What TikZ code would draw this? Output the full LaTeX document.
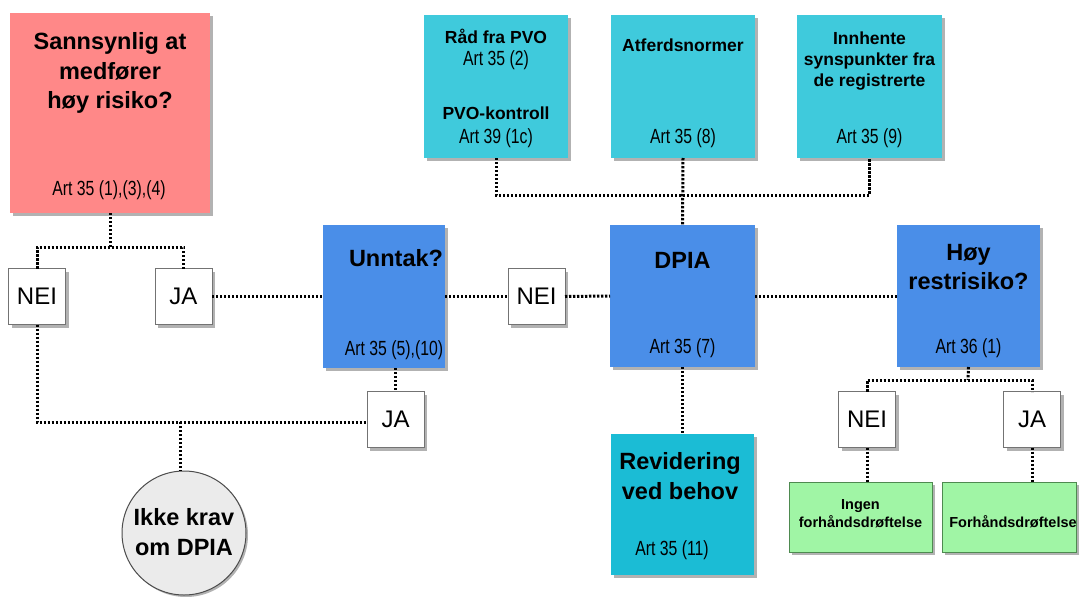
\documentclass[tikz,border=0pt]{standalone}
\usepackage{fontspec}
\setmainfont{Liberation Sans}
\newfontfamily\narrowfont{Liberation Sans}[FakeStretch=0.77]
\usetikzlibrary{shadows}
\definecolor{riskred}{HTML}{FF8888}
\definecolor{cyanbox}{HTML}{3FCADC}
\definecolor{revcyan}{HTML}{1BBCD5}
\definecolor{bluebox}{HTML}{4A8EE8}
\definecolor{greenbox}{HTML}{A0F5A5}
\definecolor{greenline}{HTML}{4E8A50}
\definecolor{circfill}{HTML}{EBEBEB}
\tikzset{
  box/.style={rectangle, inner sep=0pt, outer sep=0pt, draw=none,
    drop shadow={shadow xshift=3pt, shadow yshift=-3pt, fill=black, opacity=0.3}},
  redbox/.style={box, fill=riskred},
  cybox/.style={box, fill=cyanbox},
  revbox/.style={box, fill=revcyan},
  blbox/.style={box, fill=bluebox},
  ynbox/.style={box, fill=white, draw=black!55, line width=0.8pt, minimum width=57pt, minimum height=56pt},
  grbox/.style={box, fill=greenbox, draw=greenline, line width=0.8pt, minimum height=70pt},
  endcirc/.style={circle, inner sep=0pt, outer sep=0pt, fill=circfill, draw=black!70, line width=1pt, minimum size=124pt,
    drop shadow={shadow xshift=2pt, shadow yshift=-2pt, fill=black, opacity=0.3}},
  bigt/.style={inner sep=0pt, align=center, font=\bfseries\fontsize{23.5}{29.5}\selectfont},
  midt/.style={inner sep=0pt, align=center, font=\bfseries\fontsize{17.5}{21}\selectfont},
  smallt/.style={inner sep=0pt, align=center, font=\bfseries\fontsize{14.5}{18}\selectfont},
  artt/.style={inner sep=0pt, align=center, font=\narrowfont\fontsize{20.5}{24}\selectfont},
  ynt/.style={inner sep=0pt, font=\fontsize{24}{28}\selectfont},
  dots/.style={draw=black, line width=3pt, dash pattern=on 2.4pt off 1.6pt}
}
\begin{document}
\begin{tikzpicture}[x=1pt,y=-1pt]
\useasboundingbox[fill=white] (0,0) rectangle (1079,597);

% boxes
\node[redbox, minimum width=200pt, minimum height=200pt] (risk) at (110,113) {};
\node[cybox, minimum width=144pt, minimum height=143pt] (pvo) at (496,86.5) {};
\node[cybox, minimum width=144pt, minimum height=143pt] (atf) at (683,86.5) {};
\node[cybox, minimum width=145pt, minimum height=143pt] (inn) at (869.5,86.5) {};
\node[ynbox] (nei1) at (37,296.5) {};
\node[ynbox] (ja1) at (183.5,296.5) {};
\node[blbox, minimum width=122pt, minimum height=143pt] (unn) at (384,296.5) {};
\node[ynbox] (nei2) at (536.5,296.5) {};
\node[blbox, minimum width=145pt, minimum height=142pt] (dpia) at (682.5,296) {};
\node[blbox, minimum width=143pt, minimum height=142pt] (hoy) at (968.5,296) {};
\node[ynbox] (ja2) at (395.5,419.5) {};
\node[ynbox] (nei3) at (867,419.5) {};
\node[ynbox] (ja3) at (1032,419.5) {};
\node[revbox, minimum width=143pt, minimum height=141pt] (rev) at (682.5,504.5) {};
\node[grbox, minimum width=143pt] (g1) at (860.5,517) {};
\node[grbox, minimum width=134pt] (g2) at (1009,517) {};
\node[endcirc] (circ) at (184,533) {};

% texts
\node[bigt] (risk-t) at (110,73) {Sannsynlig at\\medfører\\høy risiko?};
\node[artt] (risk-a) at (109,190) {Art 35 (1),(3),(4)};
\node[midt] (pvo-t1) at (496,36) {Råd fra PVO};
\node[artt] (pvo-a1) at (496,60) {Art 35 (2)};
\node[midt] (pvo-t2) at (496,113) {PVO-kontroll};
\node[artt] (pvo-a2) at (496,138) {Art 39 (1c)};
\node[midt] (atf-t) at (683,45) {Atferdsnormer};
\node[artt] (atf-a) at (683,138) {Art 35 (8)};
\node[midt] (inn-t) at (869.5,61) {Innhente\\synspunkter fra\\de registrerte};
\node[artt] (inn-a) at (869.5,138) {Art 35 (9)};
\node[bigt] (unn-t) at (396,258) {Unntak?};
\node[artt] (unn-a) at (394,350) {Art 35 (5),(10)};
\node[bigt] (dpia-t) at (682.5,260) {DPIA};
\node[artt] (dpia-a) at (682.5,348) {Art 35 (7)};
\node[bigt] (hoy-t) at (968.5,267) {Høy\\restrisiko?};
\node[artt] (hoy-a) at (968.5,348) {Art 36 (1)};
\node[ynt] at (nei1) {NEI};
\node[ynt] at (ja1) {JA};
\node[ynt] at (nei2) {NEI};
\node[ynt] at (ja2) {JA};
\node[ynt] at (nei3) {NEI};
\node[ynt] at (ja3) {JA};
\node[bigt] (rev-t) at (680,476) {Revidering\\ved behov};
\node[artt] (rev-a) at (672,550) {Art 35 (11)};
\node[smallt] (g1-t) at (860.5,514) {Ingen\\forhåndsdrøftelse};
\node[smallt] (g2-t) at (1013,522) {Forhåndsdrøftelse};
\node[bigt] (circ-t) at (184,532) {Ikke krav\\om DPIA};

% connectors
\coordinate (cTop) at (683,195);
\coordinate (cRisk) at (110,247);
\coordinate (cBot) at (180,422);
\coordinate (cHoy) at (968,380);

\draw[dots] (pvo.south) -- (pvo.south |- cTop) -- (inn.south |- cTop) -- (inn.south);
\draw[dots] (atf.south) -- (dpia.north);
\draw[dots] (risk.south) -- (cRisk);
\draw[dots] (nei1.north) -- (nei1.north |- cRisk) -- (ja1.north |- cRisk) -- (ja1.north);
\draw[dots] (ja1.east) -- (unn.west);
\draw[dots] (unn.east) -- (nei2.west);
\draw[dots] (nei2.east) -- (dpia.west);
\draw[dots] (dpia.east) -- (hoy.west);
\draw[dots] (ja2.north |- unn.south) -- (ja2.north);
\draw[dots] (nei1.south) -- (nei1.south |- cBot) -- (ja2.west |- cBot);
\draw[dots] (cBot) -- (cBot |- circ.north);
\draw[dots] (dpia.south) -- (rev.north);
\draw[dots] (hoy.south) -- (cHoy);
\draw[dots] (nei3.north) -- (nei3.north |- cHoy) -- (ja3.north |- cHoy) -- (ja3.north);
\draw[dots] (nei3.south) -- (nei3.south |- g1.north);
\draw[dots] (ja3.south) -- (ja3.south |- g2.north);
\end{tikzpicture}
\end{document}
